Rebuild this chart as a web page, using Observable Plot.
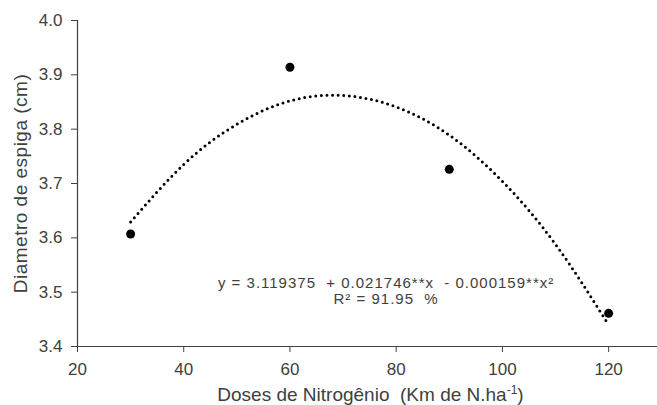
<!DOCTYPE html>
<html>
<head>
<meta charset="utf-8">
<script src="https://cdn.jsdelivr.net/npm/d3@7"></script>
<script src="https://cdn.jsdelivr.net/npm/@observablehq/plot@0.6"></script>
<style>
  html, body { margin: 0; padding: 0; background: #fff; }
  #chart { width: 657px; height: 405px; }
</style>
</head>
<body>
<div id="chart"></div>
<script>
// Observed data (Doses de Nitrogênio vs Diametro de espiga)
const doses = [30, 60, 90, 120];
const diametro = [3.607, 3.914, 3.726, 3.461];

// Fitted quadratic trend
const curveX = [30, 40, 50, 60, 70, 80, 90, 100, 110, 120];
const curveY = [3.629, 3.735, 3.809, 3.852, 3.862, 3.841, 3.789, 3.704, 3.588, 3.440];

// Axis ticks
const xTicks = [20, 40, 60, 80, 100, 120];
const yTicks = [3.4, 3.5, 3.6, 3.7, 3.8, 3.9, 4.0];

// Texts
const xLabel = "Doses de Nitrogênio  (Km de N.ha";
const xLabelSup = "-1";
const xLabelEnd = ")";
const yLabel = "Diametro de espiga (cm)";
const equationLines = ["y = 3.119375  + 0.021746**x  - 0.000159**x²", "R² = 91.95  %"];
const equationPos = { x: 78.1, y: 3.503 };

const points = doses.map((d, i) => ({ x: d, y: diametro[i] }));
const trend = curveX.map((d, i) => ({ x: d, y: curveY[i] }));

const textColor = "#404040";
const axisColor = "#404040";

const chart = Plot.plot({
  width: 657,
  height: 405,
  marginLeft: 77,
  marginTop: 20,
  marginRight: 0,
  marginBottom: 59,
  style: { fontFamily: "'Liberation Sans', Arial, sans-serif", fontSize: "17px", color: textColor, background: "#fff", overflow: "visible" },
  x: { domain: [20, 129.2] },
  y: { domain: [3.4, 4.0] },
  marks: [
    Plot.axisX({ ticks: xTicks, tickSize: 6, tickPadding: 10, stroke: axisColor, fill: textColor, label: null, fontSize: 17 }),
    Plot.axisY({ ticks: yTicks, tickSize: 6, tickPadding: 9, tickFormat: ".1f", stroke: axisColor, fill: textColor, label: null, fontSize: 17 }),
    Plot.ruleY([3.4], { stroke: axisColor, strokeWidth: 1.2 }),
    Plot.ruleX([20], { y1: 3.4, y2: 4.0, stroke: axisColor, strokeWidth: 1.2 }),
    Plot.line(trend, { x: "x", y: "y", curve: "natural", stroke: "#000", strokeWidth: 3, strokeDasharray: "0,5.6", strokeLinecap: "round" }),
    Plot.dot(points, { x: "x", y: "y", r: 4.5, fill: "#000", stroke: "none" }),
    Plot.text([equationLines.join("\n")], { x: () => equationPos.x, y: () => equationPos.y, fontSize: 15, lineHeight: 1.1, fill: textColor, textAnchor: "middle", className: "eq" }),
    Plot.text([xLabel], { frameAnchor: "bottom", dy: 48, dx: 3, fontSize: 19, fill: textColor, textAnchor: "middle", lineAnchor: "middle" }),
    Plot.text([yLabel], { frameAnchor: "left", rotate: -90, dx: -57, fontSize: 19, fill: textColor, textAnchor: "middle", lineAnchor: "middle", className: "ylabel" })
  ]
});

document.getElementById("chart").appendChild(chart);

// superscript on the x label
d3.select(chart).selectAll("text").each(function () {
  if (this.textContent === xLabel) {
    const t = d3.select(this);
    t.text(null);
    t.append("tspan").text(xLabel);
    t.append("tspan").attr("baseline-shift", "super").attr("font-size", "12px").text(xLabelSup);
    t.append("tspan").text(xLabelEnd);
  }
});
d3.select(chart).selectAll("text").style("white-space", "pre");
d3.select(chart).selectAll(".eq text").style("letter-spacing", "1px");
d3.select(chart).selectAll(".ylabel text").style("letter-spacing", "0.5px");
</script>
</body>
</html>
